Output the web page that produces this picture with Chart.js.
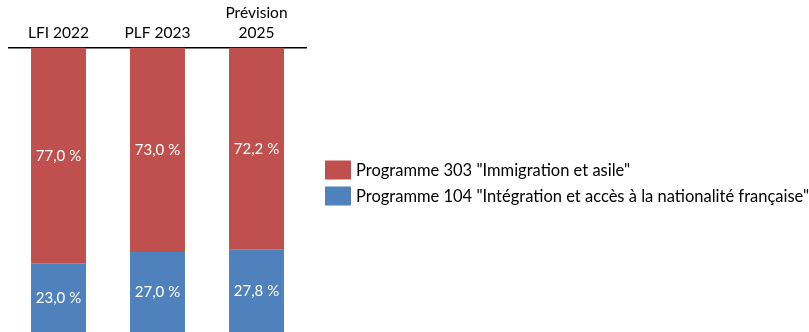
<!DOCTYPE html>
<html>
<head>
<meta charset="utf-8">
<script src="https://cdn.jsdelivr.net/npm/chart.js@4/dist/chart.umd.min.js"></script>
<style>
  html, body { margin: 0; padding: 0; background: #fff; }
  #wrap { width: 809px; height: 332px; }
</style>
</head>
<body>
<div id="wrap"><canvas id="budgetChart"></canvas></div>
<script>
const categories = ['LFI 2022', 'PLF 2023', ['Prévision', '2025']];
const prog104 = [23.0, 27.0, 27.8];
const prog303 = [77.0, 73.0, 72.2];
const seriesNames = ['Programme 104 "Intégration et accès à la nationalité française"', 'Programme 303 "Immigration et asile"'];

const fontFamily = 'Lato, "Open Sans", sans-serif';
const axisMin = -1.5; // bars run a little past the bottom of the picture

// white percentage in the middle of each segment
const segmentLabels = {
    id: 'segmentLabels',
    afterDatasetsDraw(chart) {
        const ctx = chart.ctx;
        const area = chart.chartArea;
        const size = 15;
        ctx.save();
        ctx.fillStyle = '#fff';
        ctx.font = size + 'px ' + fontFamily;
        ctx.textAlign = 'center';
        ctx.textBaseline = 'alphabetic';
        chart.data.datasets.forEach((ds, i) => {
            chart.getDatasetMeta(i).data.forEach((bar, j) => {
                const top = Math.max(Math.min(bar.y, bar.base), area.top);
                const bottom = Math.min(Math.max(bar.y, bar.base), area.bottom);
                const text = ds.data[j].toFixed(1).replace('.', ',') + ' %';
                ctx.fillText(text, bar.x, (top + bottom) / 2 + size * 0.36);
            });
        });
        ctx.restore();
    }
};

// legend to the right, red series first
const sideLegend = {
    id: 'sideLegend',
    afterDraw(chart) {
        const ctx = chart.ctx;
        const area = chart.chartArea;
        const size = 16.5;
        const x = area.right + 19;
        let y = area.top + 113;
        ctx.save();
        ctx.font = size + 'px ' + fontFamily;
        ctx.textBaseline = 'alphabetic';
        chart.data.datasets.slice().reverse().forEach(ds => {
            ctx.fillStyle = ds.backgroundColor;
            ctx.fillRect(x, y, 26, 19);
            ctx.fillStyle = '#000';
            ctx.fillText(ds.label, x + 31, y + 9.5 + size * 0.36);
            y += 26;
        });
        ctx.restore();
    }
};

new Chart(document.getElementById('budgetChart'), {
    type: 'bar',
    data: {
        labels: categories,
        datasets: [{
            label: seriesNames[0],
            data: prog104,
            backgroundColor: '#4F81BD',
            base: axisMin,
        }, {
            label: seriesNames[1],
            data: prog303,
            backgroundColor: '#C0504D',
        }]
    },
    options: {
        responsive: true,
        maintainAspectRatio: false,
        animation: false,
        layout: {
            padding: { left: 9, right: 503, top: 0, bottom: 0 }
        },
        datasets: {
            bar: {
                barPercentage: 0.555,
                categoryPercentage: 1
            }
        },
        scales: {
            x: {
                stacked: true,
                position: 'top',
                grid: { display: false },
                border: { display: true, color: '#000', width: 1.5 },
                ticks: {
                    color: '#000',
                    padding: -4,
                    font: { family: fontFamily, size: 15.5, lineHeight: 1.32 }
                },
                afterFit(scale) {
                    scale.height = 47.5;
                }
            },
            y: {
                stacked: true,
                display: false,
                min: axisMin,
                max: 100
            }
        },
        plugins: {
            legend: { display: false },
            tooltip: { enabled: false }
        }
    },
    plugins: [segmentLabels, sideLegend]
});
</script>
</body>
</html>
